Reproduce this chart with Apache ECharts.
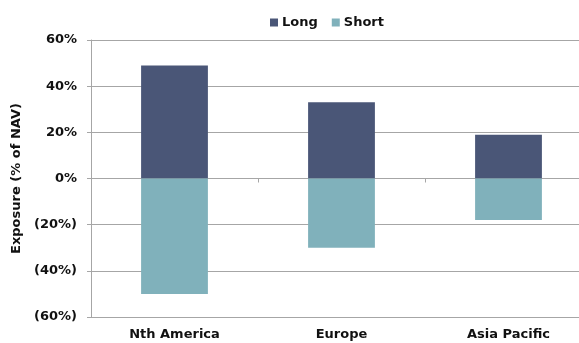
<!DOCTYPE html>
<html>
<head>
    <meta charset="UTF-8"/>
    <title>Exposure</title>
    <script src="https://cdn.jsdelivr.net/npm/echarts@6/dist/echarts.min.js"></script>
    <style>
        html, body { margin: 0; padding: 0; background: #fff; }
        #chart { width: 579px; height: 343px; }
    </style>
</head>
<body>
<div id="chart"></div>
<script>
    // 数据
    var regions = ['Nth America', 'Europe', 'Asia Pacific'];
    var longExp = [49, 33, 19];
    var shortExp = [-50, -30, -18];
    var yTicks = [-60, -40, -20, 0, 20, 40, 60];

    var font = 'DejaVu Sans';
    var gridColor = '#a6a6a6';

    function pct(v) {
        return v < 0 ? '(' + (-v) + '%)' : v + '%';
    }

    var myChart = echarts.init(document.getElementById('chart'));

    var option = {
        animation: false,
        legend: {
            left: 270,
            top: 16,
            padding: 0,
            itemWidth: 8,
            itemHeight: 8,
            itemGap: 14,
            icon: 'rect',
            textStyle: {fontFamily: font, fontWeight: 'bold', fontSize: 13, color: '#111', padding: [0, 0, 0, -1]},
            data: ['Long', 'Short']
        },
        grid: {
            left: 91,
            top: 40,
            width: 501,
            height: 277,
            outerBoundsMode: 'none'
        },
        xAxis: [
            {
                type: 'category',
                data: regions,
                axisLine: {onZero: true, lineStyle: {color: gridColor}},
                axisTick: {show: true, length: 4, lineStyle: {color: gridColor}},
                axisLabel: {show: false}
            },
            {
                type: 'category',
                data: regions,
                position: 'bottom',
                axisLine: {show: false, onZero: false},
                axisTick: {show: false},
                axisLabel: {
                    margin: 11,
                    fontFamily: font, fontWeight: 'bold', fontSize: 13, color: '#111'
                }
            }
        ],
        yAxis: {
            type: 'value',
            min: yTicks[0],
            max: yTicks[yTicks.length - 1],
            interval: 20,
            name: 'Exposure (% of NAV)',
            nameLocation: 'middle',
            nameGap: 68,
            nameTextStyle: {fontFamily: font, fontWeight: 'bold', fontSize: 13, color: '#111'},
            axisLine: {show: true, lineStyle: {color: gridColor}},
            axisTick: {show: true, length: 4, lineStyle: {color: gridColor}},
            splitLine: {lineStyle: {color: gridColor}},
            axisLabel: {
                margin: 14,
                formatter: pct,
                fontFamily: font, fontWeight: 'bold', fontSize: 13, color: '#111'
            }
        },
        series: [
            {
                name: 'Long',
                type: 'bar',
                stack: 'exp',
                barWidth: '40%',
                itemStyle: {color: '#4a5677'},
                data: longExp
            },
            {
                name: 'Short',
                type: 'bar',
                stack: 'exp',
                barWidth: '40%',
                itemStyle: {color: '#80b1bb'},
                data: shortExp
            }
        ]
    };

    myChart.setOption(option);
</script>
</body>
</html>
